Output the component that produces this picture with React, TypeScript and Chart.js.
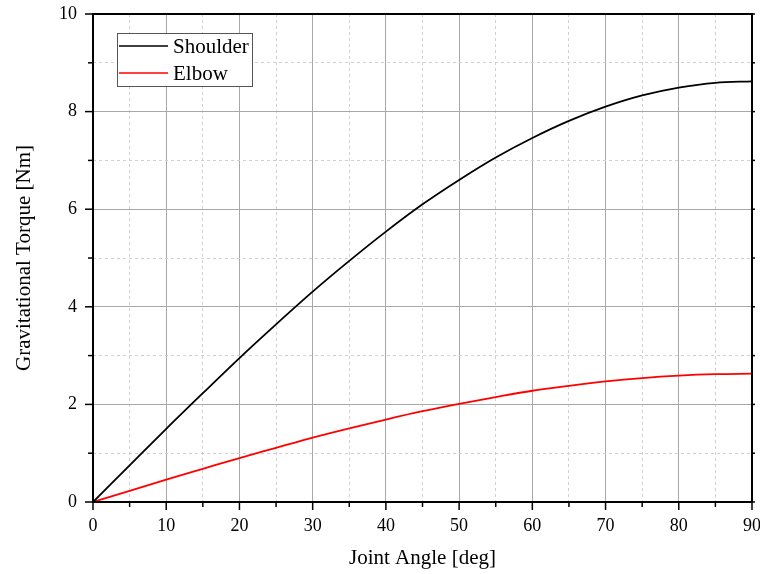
import React, { useEffect, useRef } from "react";
import { Chart, registerables } from "chart.js";

Chart.register(...registerables);

const angles = [0, 5, 10, 15, 20, 25, 30, 35, 40, 45, 50, 55, 60, 65, 70, 75, 80, 85, 90];
const shoulder = [0, 0.75, 1.5, 2.23, 2.95, 3.64, 4.31, 4.94, 5.54, 6.1, 6.6, 7.06, 7.46, 7.81, 8.1, 8.33, 8.49, 8.59, 8.62];
const elbow = [0, 0.23, 0.46, 0.68, 0.9, 1.11, 1.32, 1.51, 1.69, 1.86, 2.01, 2.15, 2.28, 2.38, 2.47, 2.54, 2.59, 2.62, 2.63];
const seriesNames = ["Shoulder", "Elbow"];
const seriesColors = ["#000000", "#ff0000"];
const xTitle = "Joint Angle [deg]";
const yTitle = "Gravitational Torque [Nm]";

const FONT = "'Liberation Serif', 'Times New Roman', serif";

const framePlugin = {
  id: "frame",
  afterDraw(chart: any) {
    const { ctx, chartArea: a, scales } = chart;
    const xs = scales.x;
    const ys = scales.y;
    ctx.save();
    ctx.strokeStyle = "#000";
    ctx.lineWidth = 1.5;
    for (let v = 0; v <= 90; v += 5) {
      const px = xs.getPixelForValue(v);
      const len = v % 10 === 0 ? 8 : 5;
      ctx.beginPath();
      ctx.moveTo(px, a.bottom);
      ctx.lineTo(px, a.bottom + len);
      ctx.stroke();
    }
    for (let v = 0; v <= 10; v += 1) {
      const py = ys.getPixelForValue(v);
      const len = v % 2 === 0 ? 8 : 5;
      ctx.beginPath();
      ctx.moveTo(a.left, py);
      ctx.lineTo(a.left - len, py);
      ctx.stroke();
      ctx.beginPath();
      ctx.moveTo(a.right, py);
      ctx.lineTo(a.right + 3, py);
      ctx.stroke();
    }
    ctx.lineWidth = 2;
    ctx.strokeRect(a.left, a.top, a.right - a.left, a.bottom - a.top);
    // legend
    const lx = 117, ly = 33, lw = 135, lh = 53;
    ctx.fillStyle = "#fff";
    ctx.fillRect(lx, ly, lw, lh);
    ctx.lineWidth = 1;
    ctx.strokeStyle = "#555";
    ctx.strokeRect(lx + 0.5, ly + 0.5, lw, lh);
    ctx.font = "21px " + FONT;
    ctx.textBaseline = "middle";
    chart.data.datasets.forEach((ds: any, i: number) => {
      const y = ly + 13 + i * 27;
      ctx.strokeStyle = ds.borderColor;
      ctx.lineWidth = 1.5;
      ctx.beginPath();
      ctx.moveTo(119, y);
      ctx.lineTo(168, y);
      ctx.stroke();
      ctx.fillStyle = "#000";
      ctx.fillText(ds.label, 173, y + 1);
    });
    ctx.restore();
  },
};

export default function App() {
  const ref = useRef<HTMLCanvasElement>(null);
  useEffect(() => {
    document.body.style.margin = "0";
    const chart = new Chart(ref.current!, {
      type: "line",
      data: {
        labels: angles,
        datasets: [
          {
            label: seriesNames[0],
            data: angles.map((a, i) => ({ x: a, y: shoulder[i] })),
            borderColor: seriesColors[0],
            borderWidth: 1.8,
            pointRadius: 0,
            cubicInterpolationMode: "monotone",
            fill: false,
          },
          {
            label: seriesNames[1],
            data: angles.map((a, i) => ({ x: a, y: elbow[i] })),
            borderColor: seriesColors[1],
            borderWidth: 1.8,
            pointRadius: 0,
            cubicInterpolationMode: "monotone",
            fill: false,
          },
        ],
      },
      options: {
        animation: false,
        responsive: false,
        maintainAspectRatio: false,
        layout: { autoPadding: false, padding: { left: 0, right: 8, top: 14, bottom: 0 } } as any,
        plugins: { legend: { display: false }, tooltip: { enabled: false } },
        scales: {
          x: {
            type: "linear",
            min: 0,
            max: 90,
            afterFit: (s: any) => { s.height = 72; s.paddingLeft = 0; s.paddingRight = 0; },
            ticks: {
              stepSize: 5,
              autoSkip: false,
              maxRotation: 0,
              padding: 13,
              color: "#000",
              font: { family: FONT, size: 18 },
              callback: (v: any) => (Number(v) % 10 === 0 ? String(v) : ""),
            },
            grid: {
              drawTicks: false,
              color: (c: any) => (c.tick && c.tick.value % 10 === 0 ? "#a8a8a8" : "#d0d0d0"),
              lineWidth: 1,
            },
            border: {
              display: false,
              dash: (c: any) => (c.tick && c.tick.value % 10 === 0 ? [] : [3, 3]),
            } as any,
            title: {
              display: true,
              text: xTitle,
              color: "#000",
              font: { family: FONT, size: 21 },
              padding: { top: 12, bottom: 3 },
            },
          },
          y: {
            type: "linear",
            min: 0,
            max: 10,
            afterFit: (s: any) => { s.width = 93; s.paddingTop = 0; s.paddingBottom = 0; },
            ticks: {
              stepSize: 1,
              autoSkip: false,
              padding: 16,
              color: "#000",
              font: { family: FONT, size: 18 },
              callback: (v: any) => (Number(v) % 2 === 0 ? String(v) : ""),
            },
            grid: {
              drawTicks: false,
              color: (c: any) => (c.tick && c.tick.value % 2 === 0 ? "#a8a8a8" : "#d0d0d0"),
              lineWidth: 1,
            },
            border: {
              display: false,
              dash: (c: any) => (c.tick && c.tick.value % 2 === 0 ? [] : [3, 3]),
            } as any,
            title: {
              display: true,
              text: yTitle,
              color: "#000",
              font: { family: FONT, size: 21 },
              padding: { top: 12, bottom: 10 },
            },
          },
        },
      },
      plugins: [framePlugin],
    });
    return () => chart.destroy();
  }, []);
  return <canvas ref={ref} width={760} height={574} style={{ display: "block" }} />;
}
